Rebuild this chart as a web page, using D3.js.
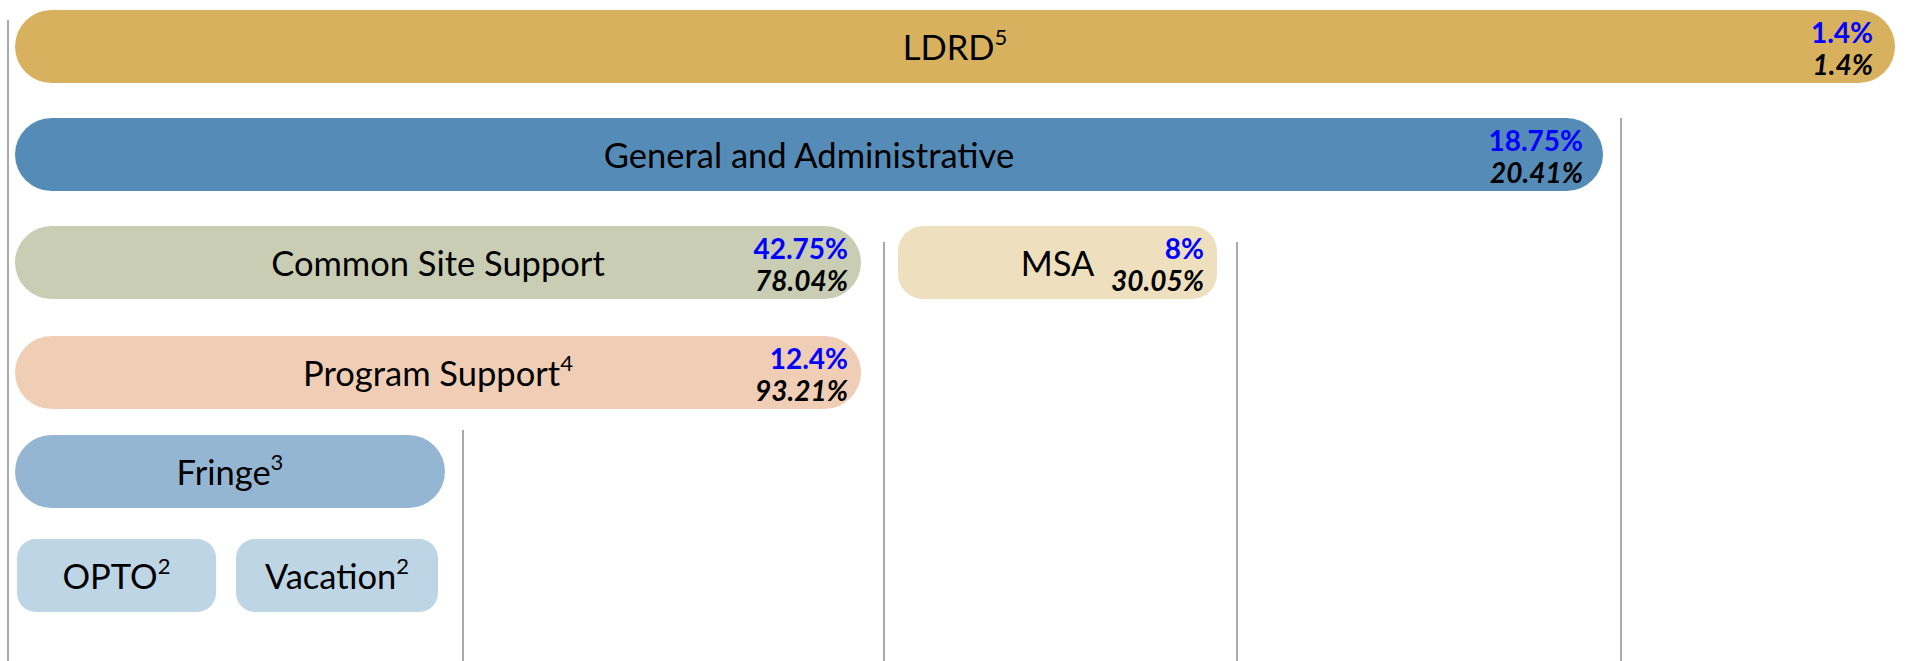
<!DOCTYPE html>
<html>
<head>
<meta charset="utf-8">
<title>Indirect cost structure</title>
<script src="https://d3js.org/d3.v7.min.js"></script>
<style>
  html, body { margin: 0; padding: 0; background: #fff; }
  svg { display: block; }
  .label { font-family: Lato, "Open Sans", sans-serif; font-size: 34.5px; fill: #000; }
  .rate { font-family: Lato, "Open Sans", sans-serif; font-size: 28px; font-weight: bold; }
</style>
</head>
<body>
<svg width="1907" height="661"></svg>
<script>
// pools, top to bottom
const categories = ['LDRD', 'General and Administrative', 'Common Site Support', 'MSA',
                    'Program Support', 'Fringe', 'OPTO', 'Vacation'];
const footnotes = ['5', '', '', '', '4', '3', '2', '2'];
const rateBlue = ['1.4%', '18.75%', '42.75%', '8%', '12.4%', '', '', ''];
const rateBlack = ['1.4%', '20.41%', '78.04%', '30.05%', '93.21%', '', '', ''];

// colours per pool
const fills = ['#d8b15e', '#558bb7', '#c8cdb4', '#eedfbe', '#f0cdb5', '#95b6d3', '#bed5e6', '#bed5e6'];

// box layout (page units)
const boxX0 = [15, 15, 15, 898, 15, 15, 17, 236];
const boxX1 = [1895, 1603, 861, 1217, 861, 445, 216, 438];
const boxY0 = [10, 118, 226, 226, 336, 435, 539, 539];
const boxR = [36.5, 36.5, 36.5, 25, 36.5, 36.5, 19, 19];
const ratePad = [22, 20, 13, 13, 13, 0, 0, 0];
const boxH = 73;

// divider lines
const divX = [8, 463, 884, 1237, 1621];
const divTop = [20, 430, 242, 242, 118];

const svg = d3.select('svg');
const width = +svg.attr('width');
const height = +svg.attr('height');

const xScale = d3.scaleLinear().domain([0, 1907]).range([0, width]);
const yScale = d3.scaleLinear().domain([0, 661]).range([0, height]);

const data = categories.map((c, i) => ({
    name: c, sup: footnotes[i], blue: rateBlue[i], black: rateBlack[i],
    fill: fills[i], x0: boxX0[i], x1: boxX1[i], y0: boxY0[i], r: boxR[i], pad: ratePad[i]
}));

// dividers
svg.selectAll('line.div').data(divX)
    .enter().append('line')
    .attr('class', 'div')
    .attr('x1', d => xScale(d)).attr('x2', d => xScale(d))
    .attr('y1', (d, i) => yScale(divTop[i]))
    .attr('y2', height)
    .attr('stroke', '#aaaaaa')
    .attr('stroke-width', 2);

const g = svg.selectAll('g.box').data(data)
    .enter().append('g')
    .attr('class', 'box');

g.append('rect')
    .attr('x', d => xScale(d.x0))
    .attr('y', d => yScale(d.y0))
    .attr('width', d => xScale(d.x1) - xScale(d.x0))
    .attr('height', yScale(boxH) - yScale(0))
    .attr('rx', d => d.r)
    .attr('fill', d => d.fill);

const lab = g.append('text')
    .attr('class', 'label')
    .attr('x', d => xScale((d.x0 + d.x1) / 2))
    .attr('y', d => yScale(d.y0 + 50))
    .attr('text-anchor', 'middle');
lab.append('tspan').text(d => d.name);
lab.append('tspan')
    .attr('dy', -15)
    .attr('font-size', 22)
    .text(d => d.sup);

g.filter(d => d.blue).append('text')
    .attr('class', 'rate')
    .attr('x', d => xScale(d.x1 - d.pad))
    .attr('y', d => yScale(d.y0 + 33))
    .attr('text-anchor', 'end')
    .attr('fill', '#0000ff')
    .text(d => d.blue);

g.filter(d => d.black).append('text')
    .attr('class', 'rate')
    .attr('x', d => xScale(d.x1 - d.pad))
    .attr('y', d => yScale(d.y0 + 65))
    .attr('text-anchor', 'end')
    .attr('font-style', 'italic')
    .attr('font-weight', 900)
    .attr('fill', '#000')
    .text(d => d.black);
</script>
</body>
</html>
